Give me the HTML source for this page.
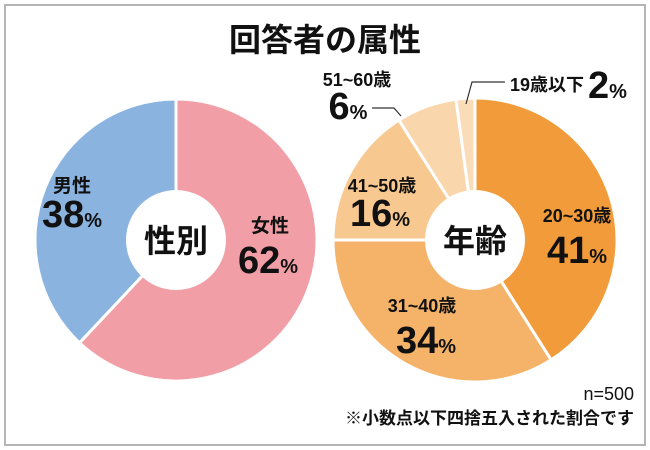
<!DOCTYPE html><html><head><meta charset="utf-8"><style>
body{margin:0;background:#fff}
svg{display:block;font-family:"Liberation Sans","Noto Sans CJK JP",sans-serif}
.b{font-weight:bold;fill:#111}
</style></head><body>
<svg width="650" height="450" viewBox="0 0 650 450">
<rect x="5" y="5" width="640" height="440" fill="#fff" stroke="#b5b5b5" stroke-width="2"/>
<text x="325" y="51" text-anchor="middle" class="b" font-size="32">回答者の属性</text>
<g stroke="#fff" stroke-width="3" stroke-linejoin="round">
<path d="M176,240 L176,99 A141,141 0 1 1 79.5,342.8 Z" fill="#f19ea6"/>
<path d="M176,240 L79.5,342.8 A141,141 0 0 1 176,99 Z" fill="#8ab3e0"/>
<path d="M475,240 L475,98 A142,142 0 0 1 551.1,359.9 Z" fill="#f29b3a"/>
<path d="M475,240 L551.1,359.9 A142,142 0 0 1 333,240 Z" fill="#f5b36a"/>
<path d="M475,240 L333,240 A142,142 0 0 1 398.9,120.1 Z" fill="#f7c88f"/>
<path d="M475,240 L398.9,120.1 A142,142 0 0 1 456,99.3 Z" fill="#fad6ad"/>
<path d="M475,240 L456,99.3 A142,142 0 0 1 475,98 Z" fill="#fbdcb9"/>
</g>
<circle cx="176" cy="240" r="50" fill="#fff"/>
<circle cx="475" cy="240" r="50" fill="#fff"/>
<text x="176" y="252" text-anchor="middle" class="b" font-size="32">性別</text>
<text x="475" y="252" text-anchor="middle" class="b" font-size="32">年齢</text>
<g class="b">
<text x="72" y="192" text-anchor="middle" font-size="19">男性</text>
<text x="72" y="227" text-anchor="middle" font-size="38">38<tspan font-size="20">%</tspan></text>
<text x="270" y="232" text-anchor="middle" font-size="19">女性</text>
<text x="268" y="273" text-anchor="middle" font-size="38">62<tspan font-size="20">%</tspan></text>
<text x="577" y="222" text-anchor="middle" font-size="18">20~30歳</text>
<text x="577" y="263" text-anchor="middle" font-size="38">41<tspan font-size="20">%</tspan></text>
<text x="422" y="312" text-anchor="middle" font-size="18">31~40歳</text>
<text x="426" y="353" text-anchor="middle" font-size="38">34<tspan font-size="20">%</tspan></text>
<text x="382" y="192" text-anchor="middle" font-size="18">41~50歳</text>
<text x="380" y="226" text-anchor="middle" font-size="38">16<tspan font-size="20">%</tspan></text>
<text x="357" y="86" text-anchor="middle" font-size="18">51~60歳</text>
<text x="348" y="119" text-anchor="middle" font-size="38">6<tspan font-size="20">%</tspan></text>
<text x="510" y="91" font-size="18">19歳以下</text>
<text x="588" y="98" font-size="38">2<tspan font-size="20">%</tspan></text>
</g>
<polyline points="372,108 394,108 401,116" fill="none" stroke="#333" stroke-width="1.2"/>
<polyline points="466,104 472,82 505,82" fill="none" stroke="#333" stroke-width="1.2"/>
<text x="634" y="400" text-anchor="end" font-size="18" fill="#111">n=500</text>
<text x="634" y="424" text-anchor="end" font-size="17" class="b">※小数点以下四捨五入された割合です</text>
</svg>
</body></html>
